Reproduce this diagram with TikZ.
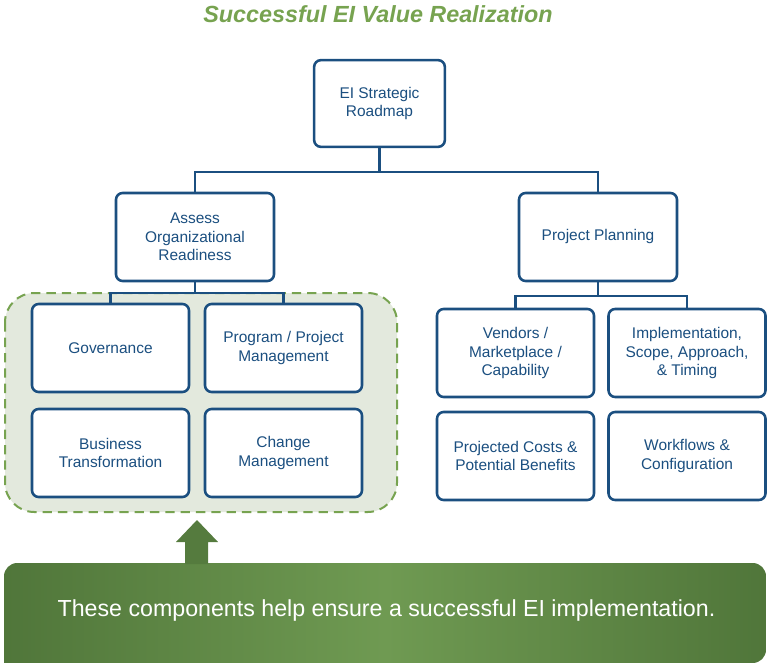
\documentclass[tikz,border=0pt]{standalone}
\usepackage{fontspec}
\setmainfont{Liberation Sans}

\definecolor{navy}{HTML}{1B4F80}
\definecolor{leaf}{HTML}{77A350}
\definecolor{pale}{HTML}{E3E9DD}
\definecolor{bannerdark}{HTML}{50763A}
\definecolor{bannerlight}{HTML}{6F9A52}

\begin{document}
\begin{tikzpicture}[x=0.75pt,y=-0.75pt,
    box/.style ={draw=navy, line width=1.9pt, rounded corners=5pt, fill=white,
                 text=navy, align=center, inner sep=2pt,
                 font=\fontsize{11.6}{14}\selectfont,
                 minimum width=117.75pt, minimum height=66pt},
    link/.style ={draw=navy, line width=2.2pt}]
   \useasboundingbox (0,0) rectangle (767,663);

   % title
   \node[text=leaf, font=\fontsize{17.5}{20}\bfseries\itshape] (title) at (378,14) {Successful EI Value Realization};

   % shaded group behind the readiness boxes
   \draw[leaf, fill=pale, line width=1.5pt, dash pattern=on 7pt off 4.5pt, rounded corners=22pt]
        (5,293) rectangle (397,512);

   \node[box, minimum width=98pt, minimum height=65pt] (roadmap) at (379.5,103.5) {EI Strategic\\Roadmap};
   \node[box, minimum width=118.5pt] (assess) at (195,237) {Assess\\Organizational\\Readiness};
   \node[box, minimum width=118.5pt] (planning) at (598,237) {Project Planning};

   \node[box] (gov)  at (110.5,348) {Governance};
   \node[box] (prog) at (283.5,348) {Program / Project\\Management};
   \node[box] (bus)  at (110.5,453) {Business\\Transformation};
   \node[box] (chg)  at (283.5,453) {Change\\Management};

   \node[box] (vend) at (515.5,353) {Vendors /\\Marketplace /\\Capability};
   \node[box] (impl) at (687,353)   {Implementation,\\Scope, Approach,\\\& Timing};
   \node[box] (cost) at (515.5,456) {Projected Costs \&\\Potential Benefits};
   \node[box] (flow) at (687,456)   {Workflows \&\\Configuration};

   \coordinate (j1) at (379.5,172);
   \coordinate (j2) at (195,293);
   \coordinate (j3) at (598,296);

   \draw[link] (roadmap.south) -- (j1);
   \draw[link] (j1) -| (assess.north);
   \draw[link] (j1) -| (planning.north);

   \draw[link] (assess.south) -- (j2);
   \draw[link] (j2) -| (gov.north);
   \draw[link] (j2) -| (prog.north);

   \draw[link] (planning.south) -- (j3);
   \draw[link] (j3) -| (vend.north);
   \draw[link] (j3) -| (impl.north);

   % banner and its arrow
   \shade[left color=bannerdark, right color=bannerdark, middle color=bannerlight]
        (4,663) [rounded corners=10pt] -- (4,563) -- (766,563) -- (766,663) [sharp corners] -- cycle;
   \coordinate (tip) at (197,520);
   \fill[bannerdark!85!bannerlight] (tip) -- ++(21,22) -- ++(-10,0) -- ++(0,22)
        -- ++(-23,0) -- ++(0,-22) -- ++(-9,0) -- cycle;
   \node[text=white, font=\fontsize{17.4}{20}\selectfont] (banner) at (386.5,610)
        {These components help ensure a successful EI implementation.};
\end{tikzpicture}
\end{document}
